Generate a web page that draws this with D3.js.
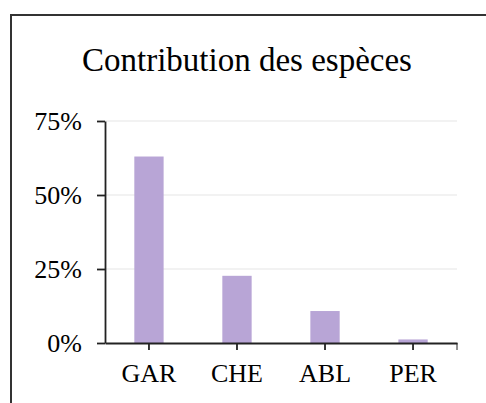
<!DOCTYPE html>
<html>
<head>
<meta charset="utf-8">
<script src="https://cdn.jsdelivr.net/npm/d3@7"></script>
<style>
  html, body { margin: 0; padding: 0; background: #fff; }
  svg { display: block; }
  text { font-family: "Liberation Serif", "Times New Roman", serif; fill: #000; }
</style>
</head>
<body>
<svg width="486" height="403"></svg>
<script>
// data
var species = ["GAR", "CHE", "ABL", "PER"];
var contribution = [63.0, 22.7, 10.8, 1.2];
var yTicks = [0, 25, 50, 75];

var svg = d3.select("svg"),
    width = 486,
    height = 403;

var margin = {left: 105, right: 29, top: 121, bottom: 60};

// frame (cut off at right and bottom)
svg.append("rect")
    .attr("x", 11)
    .attr("y", 15)
    .attr("width", 600)
    .attr("height", 600)
    .attr("fill", "none")
    .attr("stroke", "#333")
    .attr("stroke-width", 2);

svg.append("text")
    .attr("x", 247)
    .attr("y", 71)
    .attr("text-anchor", "middle")
    .style("font-size", "33px")
    .text("Contribution des espèces");

var x = d3.scaleBand()
    .domain(species)
    .range([margin.left, width - margin.right])
    .paddingInner(0.667)
    .paddingOuter(0.333);

var y = d3.scaleLinear()
    .domain([0, 75])
    .range([height - margin.bottom, margin.top]);

// gridlines
svg.append("g")
    .selectAll("line")
    .data(yTicks.filter(function(d) { return d > 0; }))
    .enter().append("line")
    .attr("x1", margin.left)
    .attr("x2", width - margin.right)
    .attr("y1", function(d) { return y(d); })
    .attr("y2", function(d) { return y(d); })
    .attr("stroke", "#eeeeee")
    .attr("stroke-width", 1.5);

// bars
svg.append("g")
    .selectAll("rect")
    .data(contribution)
    .enter().append("rect")
    .attr("x", function(d, i) { return x(species[i]); })
    .attr("width", x.bandwidth())
    .attr("y", function(d) { return y(d); })
    .attr("height", function(d) { return y(0) - y(d); })
    .attr("fill", "#b8a5d6");

// y axis
var yAxis = svg.append("g")
    .attr("transform", "translate(" + margin.left + ",0)")
    .call(d3.axisLeft(y)
        .tickValues(yTicks)
        .tickSize(8)
        .tickSizeOuter(0)
        .tickPadding(15)
        .tickFormat(function(d) { return d + "%"; }));

// x axis
var xAxis = svg.append("g")
    .attr("transform", "translate(0," + y(0) + ")")
    .call(d3.axisBottom(x)
        .tickSize(7)
        .tickSizeOuter(0)
        .tickPadding(14));

// little end tick at right of x axis
xAxis.append("line")
    .attr("x1", width - margin.right)
    .attr("x2", width - margin.right)
    .attr("y1", 0)
    .attr("y2", 7)
    .attr("stroke", "#222");

svg.selectAll(".domain, .tick line")
    .attr("stroke", "#222")
    .attr("stroke-width", 1.8);

svg.selectAll(".tick text")
    .attr("font-family", "Liberation Serif, Times New Roman, serif")
    .style("font-size", "26px")
    .attr("fill", "#000");
</script>
</body>
</html>
